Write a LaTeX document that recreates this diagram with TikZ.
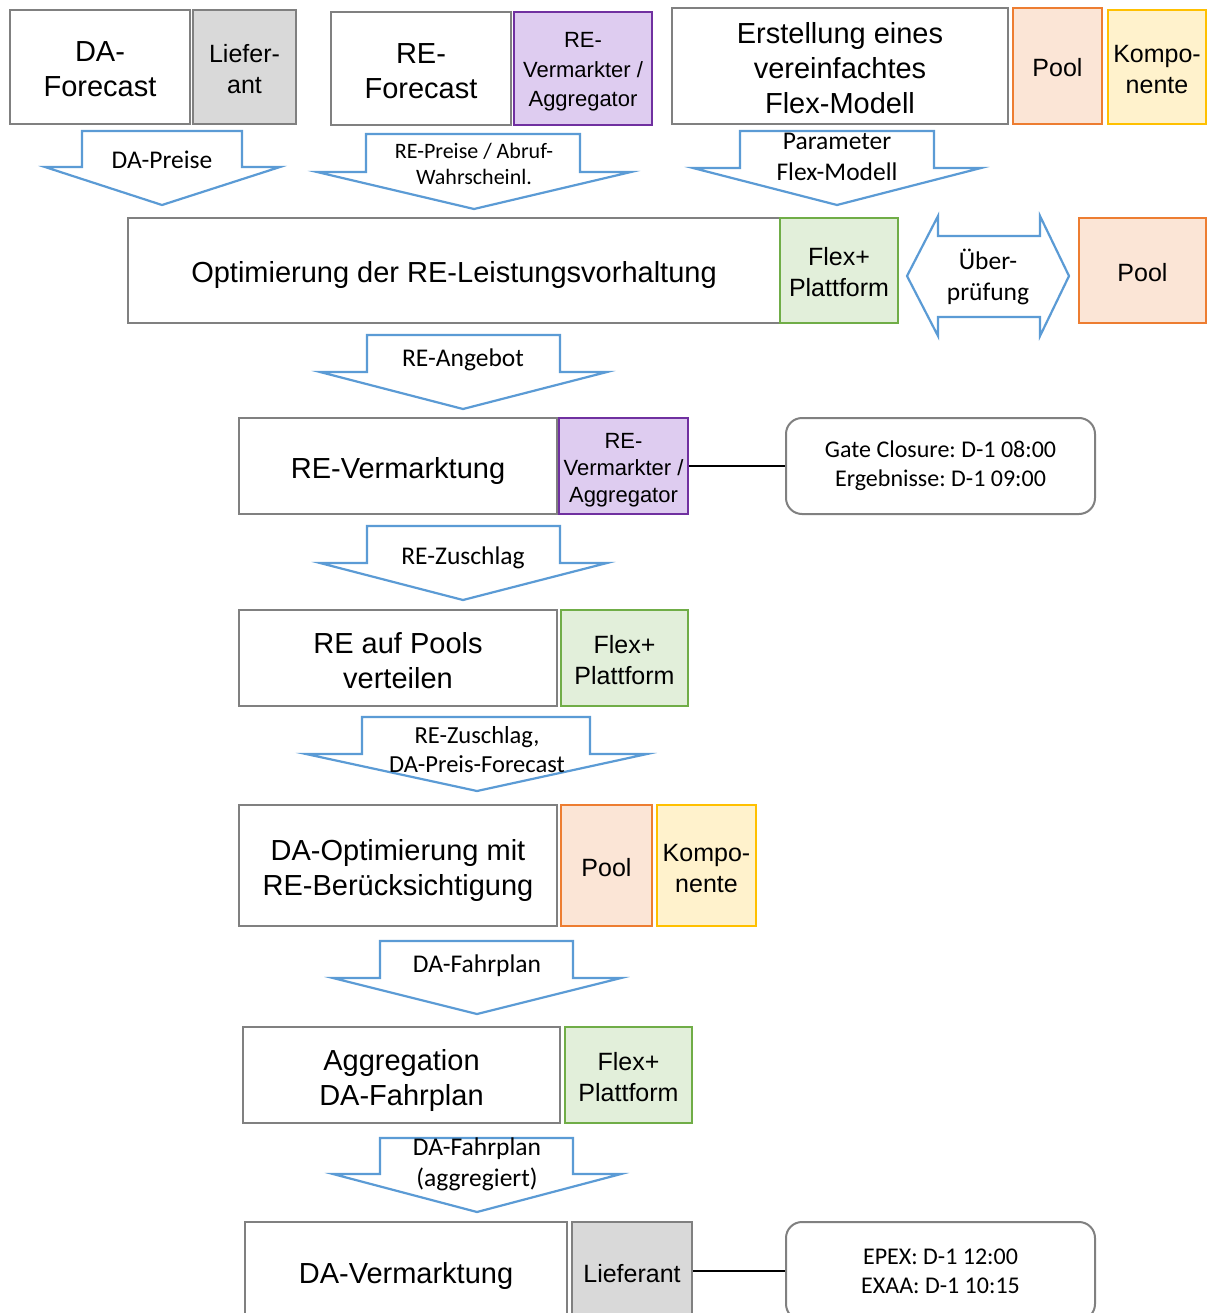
\documentclass[tikz,border=0pt]{standalone}
\usepackage{fontspec}
\setmainfont{Liberation Sans}
\newfontfamily\lblfont{Carlito}
\frenchspacing
\definecolor{boxgray}{RGB}{128,128,128}
\definecolor{liefill}{RGB}{217,217,217}
\definecolor{purpfill}{RGB}{222,204,240}
\definecolor{purpline}{RGB}{112,48,160}
\definecolor{orfill}{RGB}{251,229,214}
\definecolor{orline}{RGB}{237,125,49}
\definecolor{yefill}{RGB}{255,242,204}
\definecolor{yeline}{RGB}{255,192,0}
\definecolor{grfill}{RGB}{226,239,218}
\definecolor{grline}{RGB}{112,173,71}
\definecolor{arrblue}{RGB}{91,155,213}
\newcommand{\blockdown}[8]{%
  \draw[blockarr] (#1,#3) -- (#2,#3) -- (#2,#4) -- (#6,#4) -- (#8,#7) -- (#5,#4) -- (#1,#4) -- cycle;}
% centred lines: top strut height #1, bottom strut depth #2
\newcommand{\mlx}[3]{\vbox{\def\\{\cr}\halign{\hfil##\hfil\cr\rule{0pt}{#1pt}#3\rule[-#2pt]{0pt}{#2pt}\crcr}}}
\newcommand{\maintxt}[1]{\mlx{32}{7}{#1}}
\newcommand{\sidetxt}[1]{\mlx{28}{6}{#1}}
\newcommand{\purtxt}[1]{\mlx{23}{5}{#1}}
\begin{document}
\begin{tikzpicture}[x=1pt,y=-1pt,
  box/.style={draw=boxgray,line width=2.2pt,fill=white,inner sep=0pt,
     font=\fontsize{29}{35}\selectfont},
  side/.style={draw=boxgray,line width=2.2pt,inner sep=0pt,
     font=\fontsize{25}{31}\selectfont},
  lief/.style={side,fill=liefill},
  purp/.style={side,fill=purpfill,draw=purpline,font=\fontsize{22}{27}\selectfont},
  pool/.style={side,fill=orfill,draw=orline},
  komp/.style={side,fill=yefill,draw=yeline},
  flex/.style={side,fill=grfill,draw=grline},
  info/.style={draw=boxgray,line width=2pt,rounded corners=16pt,fill=white,inner sep=0pt,align=center,
     font=\lblfont\fontsize{24}{29}\selectfont},
  lbl/.style={align=center,inner sep=0pt,font=\lblfont\fontsize{25.5}{30}\selectfont},
  blockarr/.style={draw=arrblue,line width=2.2pt,fill=white,line join=miter}
]
\useasboundingbox (0,0) rectangle (1208,1313);
\fill[white] (0,0) rectangle (1208,1313);

% row 1
\node[box,minimum width=180,minimum height=114] (daf) at (100,67) {\maintxt{DA-\\Forecast}};
\node[lief,minimum width=103,minimum height=114] (lief1) at (244.5,67) {\sidetxt{Liefer-\\ant}};
\node[box,minimum width=180,minimum height=113] (ref) at (421,68.5) {\maintxt{RE-\\Forecast}};
\node[purp,minimum width=138,minimum height=113,font=\fontsize{22}{29.5}\selectfont] (rev1) at (583,68.5) {\purtxt{RE-\\Vermarkter /\\Aggregator}};
\node[box,minimum width=336,minimum height=116] (erst) at (840,66) {\maintxt{Erstellung eines\\vereinfachtes\\Flex-Modell}};
\node[pool,minimum width=89,minimum height=116] (pool1) at (1057.5,66) {\sidetxt{Pool}};
\node[komp,minimum width=98,minimum height=114] (komp1) at (1157,67) {\sidetxt{Kompo-\\nente}};

% arrows row 1
\blockdown{82}{242}{131}{167}{45}{280}{205}{162}
\node[lbl] (l1) at (162,160) {DA-Preise};
\blockdown{366}{580}{134}{172}{317}{631}{209}{474}
\node[lbl,font=\lblfont\fontsize{22}{26}\selectfont] (l2) at (474,164) {RE-Preise / Abruf-\\Wahrscheinl.};
\blockdown{740}{934}{131}{168}{693}{981}{205}{837}
\node[lbl,font=\lblfont\fontsize{25.5}{31}\selectfont] (l3) at (837,157) {Parameter\\Flex-Modell};

% row 2
\node[box,minimum width=652,minimum height=105] (opt) at (454,270.5) {\maintxt{Optimierung der RE-Leistungsvorhaltung}};
\node[flex,minimum width=118,minimum height=105] (flex1) at (839,270.5) {\sidetxt{Flex+\\Plattform}};
\draw[blockarr] (907,276) -- (938,216) -- (938,236) -- (1040,236) -- (1040,216) -- (1069,276)
  -- (1040,336) -- (1040,317) -- (938,317) -- (938,336) -- cycle;
\node[lbl,font=\lblfont\fontsize{25.5}{31}\selectfont] (l4) at (988,277) {Über-\\prüfung};
\node[pool,minimum width=127,minimum height=105] (pool2) at (1142.5,270.5) {\sidetxt{Pool}};

\blockdown{367}{560}{335}{372}{320}{607}{409}{463}
\node[lbl] (l5) at (463,360) {RE-Angebot};

% row 3
\node[box,minimum width=318,minimum height=96] (rvm) at (398,466) {\maintxt{RE-Vermarktung}};
\node[purp,minimum width=129,minimum height=96] (rev2) at (623.5,466) {\purtxt{RE-\\Vermarkter /\\Aggregator}};
\node[info,minimum width=309,minimum height=96] (gc) at (940.5,466) {Gate Closure: D-1 08:00\\Ergebnisse: D-1 09:00};
\draw[line width=1.2pt] (rev2.east) -- (gc.west);

\blockdown{367}{560}{526}{563}{320}{607}{600}{463}
\node[lbl] (l6) at (463,558) {RE-Zuschlag};

% row 4
\node[box,minimum width=318,minimum height=96] (pools) at (398,658) {\maintxt{RE auf Pools\\verteilen}};
\node[flex,minimum width=127,minimum height=96] (flex2) at (624.5,658) {\sidetxt{Flex+\\Plattform}};

\blockdown{362}{590}{717}{754}{306}{647}{791}{477}
\node[lbl,font=\lblfont\fontsize{24.5}{29}\selectfont] (l7) at (477,750) {RE-Zuschlag,\\DA-Preis-Forecast};

% row 5
\node[box,minimum width=318,minimum height=121] (daopt) at (398,865.5) {\maintxt{DA-Optimierung mit\\RE-Berücksichtigung}};
\node[pool,minimum width=91,minimum height=121] (pool3) at (606.5,865.5) {\sidetxt{Pool}};
\node[komp,minimum width=99,minimum height=121] (komp2) at (706.5,865.5) {\sidetxt{Kompo-\\nente}};

\blockdown{380}{573}{941}{978}{333}{621}{1014}{477}
\node[lbl] (l8) at (477,966) {DA-Fahrplan};

% row 6
\node[box,minimum width=317,minimum height=96] (agg) at (401.5,1075) {\maintxt{Aggregation\\DA-Fahrplan}};
\node[flex,minimum width=127,minimum height=96] (flex3) at (628.5,1075) {\sidetxt{Flex+\\Plattform}};

\blockdown{380}{573}{1138}{1174}{333}{621}{1212}{477}
\node[lbl,font=\lblfont\fontsize{25.5}{31}\selectfont] (l9) at (477,1164) {DA-Fahrplan\\(aggregiert)};

% row 7
\node[box,minimum width=322,minimum height=98] (dav) at (406,1271) {\maintxt{DA-Vermarktung}};
\node[lief,minimum width=120,minimum height=98] (lief2) at (632,1271) {\sidetxt{Lieferant}};
\node[info,minimum width=309,minimum height=98] (epex) at (940.5,1271) {EPEX: D-1 12:00\\EXAA: D-1 10:15};
\draw[line width=1.2pt] (lief2.east) -- (epex.west);
\end{tikzpicture}
\end{document}
